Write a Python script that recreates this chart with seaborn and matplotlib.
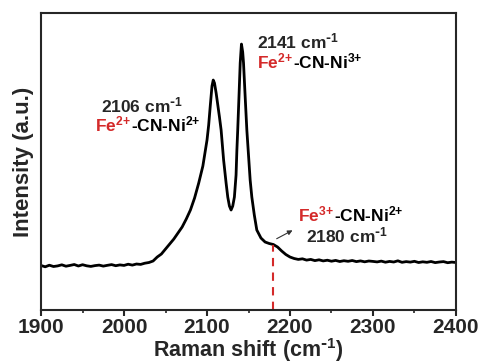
import matplotlib
matplotlib.use("Agg")
import matplotlib.pyplot as plt
import seaborn as sns
import pandas as pd

# Data (Raman shift, intensity in arbitrary units)
shift = [1900, 1905, 1910, 1915, 1920, 1925, 1930, 1935, 1940, 1945,
         1950, 1955, 1960, 1965, 1970, 1975, 1980, 1985, 1990, 1995,
         2000, 2005, 2010, 2015, 2020, 2025, 2030, 2035, 2040, 2045,
         2050, 2055, 2060, 2065, 2070, 2075, 2080, 2085, 2090, 2095,
         2100, 2102, 2104, 2106, 2107.5, 2109, 2111, 2113, 2115, 2117,
         2120, 2123, 2125, 2127, 2129, 2131, 2133, 2135, 2136, 2137,
         2138.5, 2140, 2141.5, 2143, 2144, 2146, 2148, 2150, 2152, 2154,
         2157, 2160, 2165, 2170, 2175, 2180, 2185, 2190, 2195, 2200,
         2205, 2210, 2215, 2220, 2225, 2230, 2235, 2240, 2245, 2250,
         2255, 2260, 2265, 2270, 2275, 2280, 2285, 2290, 2295, 2300,
         2305, 2310, 2315, 2320, 2325, 2330, 2335, 2340, 2345, 2350,
         2355, 2360, 2365, 2370, 2375, 2380, 2385, 2390, 2395, 2400]
intensity = [44.5, 43.2, 44.8, 43.5, 44.1, 45.2, 43.8, 44.6, 45.5, 44.0,
             45.3, 44.2, 43.6, 44.4, 44.9, 43.9, 44.7, 45.4, 44.3, 45.1,
             44.6, 45.8, 44.9, 46.0, 45.6, 46.8, 47.5, 49.0, 53.0, 56.0,
             61.0, 66.0, 71.0, 77.0, 83.0, 91.0, 100.0, 112.0, 127.0, 144.0,
             170.0, 185.0, 205.0, 224.0, 230.0, 227.0, 217.0, 205.0, 193.0, 180.0,
             150.0, 127.0, 113.0, 104.0, 100.0, 104.0, 113.0, 135.0, 160.0, 180.0,
             213.0, 247.0, 266.0, 258.0, 247.0, 213.0, 180.0, 155.0, 130.0, 113.0,
             95.0, 80.0, 72.0, 68.0, 66.5, 65.5, 63.0, 59.0, 55.5, 53.0,
             51.5, 50.6, 51.2, 49.9, 50.6, 49.4, 50.2, 49.1, 49.8, 48.8,
             49.6, 48.5, 49.3, 48.7, 49.5, 48.4, 49.1, 48.2, 49.0, 48.6,
             48.1, 48.9, 47.8, 48.6, 48.0, 49.2, 47.7, 48.4, 47.9, 48.7,
             47.5, 48.2, 47.7, 48.5, 47.4, 48.0, 48.4, 47.3, 47.9, 47.5]

xticks = [1900, 2000, 2100, 2200, 2300, 2400]
peak_x = 2180

df = pd.DataFrame({"shift": shift, "intensity": intensity})

sns.set_style("ticks")
plt.rcParams["font.family"] = ["Liberation Sans", "DejaVu Sans"]
plt.rcParams["font.weight"] = "bold"
plt.rcParams["mathtext.default"] = "regular"

RED = "#d42a2a"
CM = "cm$^{\\text{-}1}$"

fig = plt.figure(figsize=(4.83, 3.63), dpi=100)
ax = fig.add_axes([0.085, 0.146, 0.859, 0.818])

sns.lineplot(data=df, x="shift", y="intensity", ax=ax, color="black", lw=2.0)

ax.set_xlim(1900, 2400)
ax.set_ylim(0, 297)
ax.set_xticks(xticks)
ax.set_xticks(range(1950, 2400, 100), minor=True)
ax.set_yticks([])
ax.tick_params(axis="x", which="major", direction="out", length=4, width=1.5,
               labelsize=15, pad=2)
ax.tick_params(axis="x", which="minor", direction="out", length=2.5, width=1.2)
for lab in ax.get_xticklabels():
    lab.set_fontweight("bold")
for s in ax.spines.values():
    s.set_linewidth(1.5)
    s.set_visible(True)

ax.set_xlabel("Raman shift (" + CM + ")", fontsize=15.5, fontweight="bold", labelpad=-1)
ax.set_ylabel("Intensity (a.u.)", fontsize=16, fontweight="bold", labelpad=5)

fs = 12.5

def two_color(x, y, red, black):
    t1 = ax.text(x, y, red, color=RED, fontsize=fs, fontweight="bold",
                 ha="left", va="baseline")
    ax.annotate(black, xy=(1, 0), xycoords=t1, xytext=(0, 0),
                textcoords="offset points", fontsize=fs, fontweight="bold",
                color="black", ha="left", va="bottom")

ax.text(2209.6, 262, "2141 " + CM, fontsize=fs, fontweight="bold",
        ha="center", va="baseline")
two_color(2160, 242, "Fe$^{2{+}}$", "-CN-Ni$^{3{+}}$")

ax.text(2021.7, 198, "2106 " + CM, fontsize=fs, fontweight="bold",
        ha="center", va="baseline")
two_color(1965, 179, "Fe$^{2{+}}$", "-CN-Ni$^{2{+}}$")

two_color(2209.6, 89, "Fe$^{3{+}}$", "-CN-Ni$^{2{+}}$")
ax.text(2219, 68, "2180 " + CM, fontsize=fs, fontweight="bold",
        ha="left", va="baseline")

ax.annotate("", xy=(2206, 81), xytext=(2181, 70),
            arrowprops=dict(arrowstyle="-|>", color="#333333", lw=0.8,
                            mutation_scale=7))

ax.plot([peak_x, peak_x], [0, 65], color=RED, lw=1.5, ls=(0, (4, 3)))

fig.savefig("out.png", dpi=100)
